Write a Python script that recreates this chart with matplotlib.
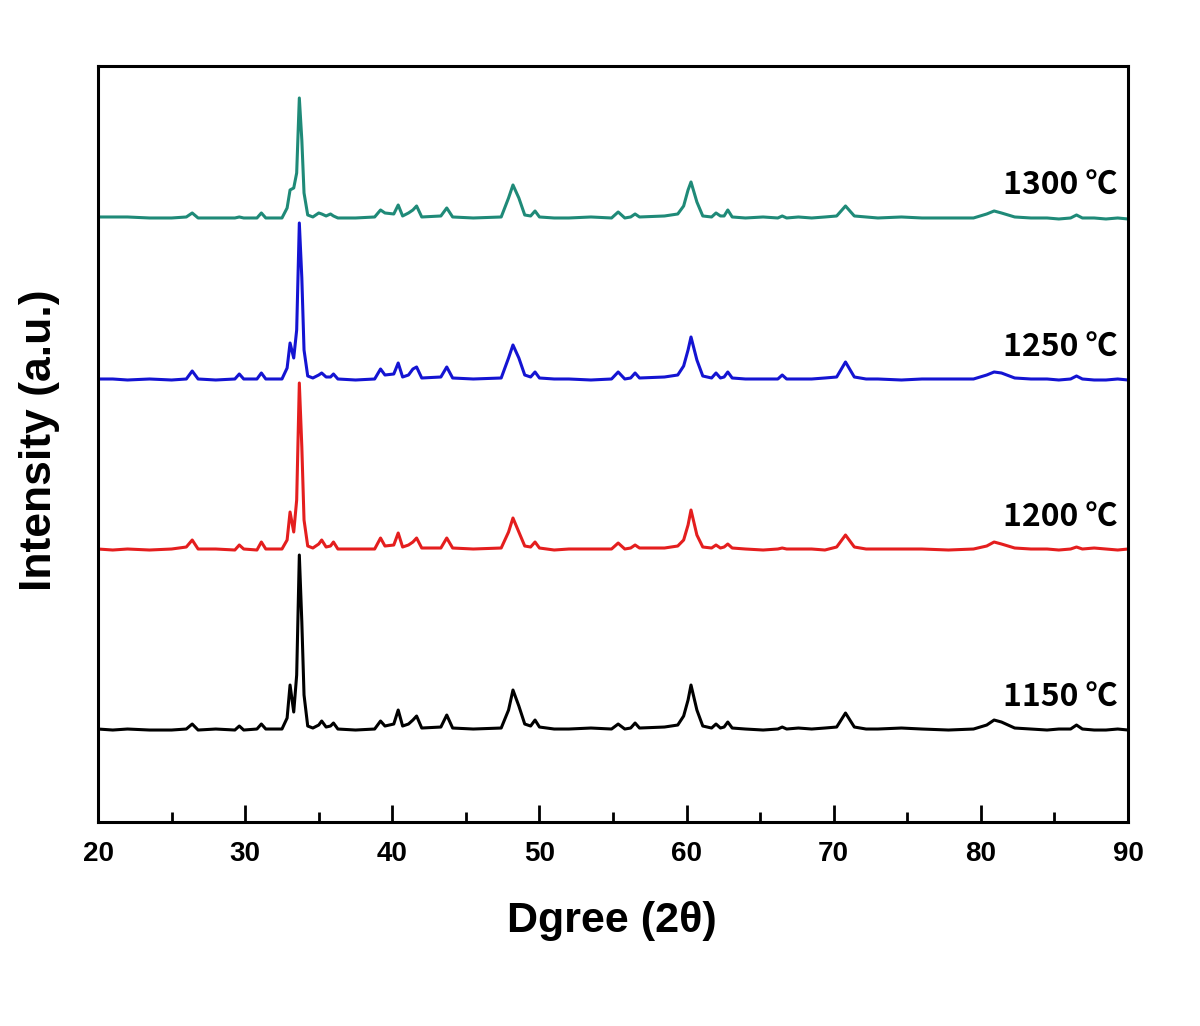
import matplotlib
matplotlib.use("Agg")
import matplotlib.pyplot as plt
from matplotlib.ticker import MultipleLocator

# 2theta vertices shared by all patterns
two_theta = [
    20.0, 21.0, 22.0, 23.5, 25.0, 26.0, 26.4, 26.8, 28.0, 29.3,
    29.6, 29.9, 30.8, 31.1, 31.4, 32.5, 32.85, 33.05, 33.3, 33.5,
    33.68, 33.85, 34.0, 34.25, 34.6, 35.0, 35.2, 35.5, 35.8, 36.0,
    36.3, 37.5, 38.8, 39.2, 39.5, 40.1, 40.4, 40.7, 41.1, 41.4,
    41.65, 42.0, 43.3, 43.7, 44.1, 45.5, 47.4, 47.9, 48.2, 48.6,
    49.0, 49.4, 49.7, 50.0, 51.0, 52.0, 53.5, 54.9, 55.35, 55.8,
    56.2, 56.5, 56.8, 58.5, 59.4, 59.8, 60.1, 60.3, 60.7, 61.1,
    61.7, 62.0, 62.3, 62.55, 62.8, 63.1, 64.0, 65.2, 66.2, 66.5,
    66.8, 67.6, 68.5, 69.4, 70.2, 70.8, 71.4, 72.2, 73.0, 74.6,
    76.0, 77.8, 79.5, 80.4, 80.9, 81.4, 82.3, 83.4, 84.5, 85.3,
    86.1, 86.5, 86.9, 87.7, 88.5, 89.3, 90.0,
]

i_1150 = [
    1, 0, 1, 0, 0, 1, 6, 0, 1, 0,
    4, 0, 1, 6, 1, 1, 12, 45, 18, 55,
    175, 108, 35, 4, 2, 5, 9, 3, 4, 7,
    1, 0, 1, 9, 4, 6, 20, 4, 6, 10,
    14, 2, 3, 15, 2, 1, 2, 20, 40, 24,
    6, 4, 10, 3, 1, 1, 2, 1, 6, 1,
    2, 7, 2, 3, 5, 14, 30, 45, 20, 4,
    2, 6, 2, 3, 8, 2, 1, 0, 1, 3,
    1, 2, 1, 2, 3, 17, 3, 1, 1, 2,
    1, 0, 1, 5, 10, 8, 2, 1, 0, 1,
    1, 5, 1, 0, 0, 1, 0,
]

i_1200 = [
    1, 0, 1, 0, 1, 3, 10, 1, 1, 0,
    5, 1, 0, 8, 1, 1, 10, 38, 18, 50,
    167, 103, 30, 4, 2, 6, 10, 3, 4, 8,
    1, 1, 1, 12, 4, 5, 17, 3, 5, 8,
    12, 2, 2, 12, 2, 1, 2, 18, 32, 18,
    4, 3, 8, 2, 0, 1, 1, 1, 7, 1,
    2, 5, 2, 2, 4, 10, 25, 40, 15, 3,
    2, 5, 2, 3, 6, 2, 1, 0, 1, 2,
    1, 1, 1, 0, 3, 15, 3, 1, 1, 1,
    1, 0, 1, 4, 8, 6, 2, 1, 1, 0,
    1, 3, 1, 2, 1, 0, 1,
]

i_1250 = [
    1, 1, 0, 1, 0, 1, 9, 1, 0, 1,
    6, 1, 1, 7, 1, 1, 12, 37, 22, 50,
    157, 102, 30, 4, 2, 5, 7, 3, 3, 6,
    1, 0, 1, 11, 5, 6, 17, 3, 5, 11,
    13, 2, 3, 13, 2, 1, 2, 22, 35, 22,
    5, 3, 8, 2, 1, 1, 0, 1, 8, 1,
    2, 7, 2, 3, 5, 14, 30, 43, 20, 4,
    2, 7, 2, 3, 8, 2, 1, 1, 1, 5,
    1, 1, 1, 2, 3, 18, 3, 1, 1, 0,
    1, 1, 1, 5, 8, 7, 2, 1, 1, 0,
    1, 4, 1, 0, 0, 1, 0,
]

i_1300 = [
    1, 1, 1, 0, 0, 1, 5, 0, 0, 0,
    1, 0, 0, 5, 0, 0, 10, 28, 30, 45,
    120, 78, 25, 3, 1, 5, 4, 2, 4, 2,
    0, 0, 1, 8, 5, 4, 13, 2, 5, 8,
    12, 1, 2, 10, 1, 0, 1, 20, 33, 20,
    3, 2, 7, 1, 0, 0, 1, 0, 6, 0,
    1, 4, 1, 2, 4, 12, 28, 36, 16, 2,
    1, 5, 2, 2, 8, 1, 0, 1, 0, 2,
    0, 1, 0, 1, 2, 12, 2, 1, 0, 1,
    0, 0, 0, 4, 7, 5, 1, 0, 0, -1,
    0, 3, 0, 0, -1, 0, -1,
]

temps = ["1150 ℃", "1200 ℃", "1250 ℃", "1300 ℃"]
offsets = [92, 272, 442, 604]
colors = ["#000000", "#e41e1e", "#1414d2", "#1f8a78"]
patterns = [i_1150, i_1200, i_1250, i_1300]

fig = plt.figure(figsize=(12, 10.26), dpi=100)
ax = fig.add_axes([0.0817, 0.1988, 0.8583, 0.7369])

for name, off, c, ys in zip(temps, offsets, colors, patterns):
    assert len(ys) == len(two_theta)
    ax.plot(two_theta, [y + off for y in ys], color=c, lw=2.2,
            solid_joinstyle="round")
    ax.text(89.3, off + 32, name, ha="right", va="center", fontsize=23,
            fontweight="bold", family=["Noto Sans CJK KR", "DejaVu Sans"])

ax.set_xlim(20, 90)
ax.set_ylim(0, 756)
ax.set_yticks([])
ax.xaxis.set_major_locator(MultipleLocator(10))
ax.xaxis.set_minor_locator(MultipleLocator(5))
ax.tick_params(axis="x", which="major", direction="in", length=12, width=2,
               top=False, pad=14)
ax.tick_params(axis="x", which="minor", direction="in", length=7, width=2,
               top=False)
for lab in ax.get_xticklabels():
    lab.set_fontsize(20)
    lab.set_fontweight("bold")
    lab.set_family("Liberation Sans")
for s in ax.spines.values():
    s.set_linewidth(2.2)

ax.set_xlabel("Dgree (2θ)", fontsize=31, fontweight="bold",
              family="Liberation Sans")
ax.set_ylabel("Intensity (a.u.)", fontsize=32, fontweight="bold",
              family="Liberation Sans")
ax.xaxis.set_label_coords(0.499, -0.105)
ax.yaxis.set_label_coords(-0.037, 0.505)

fig.savefig("out.png", dpi=100)
